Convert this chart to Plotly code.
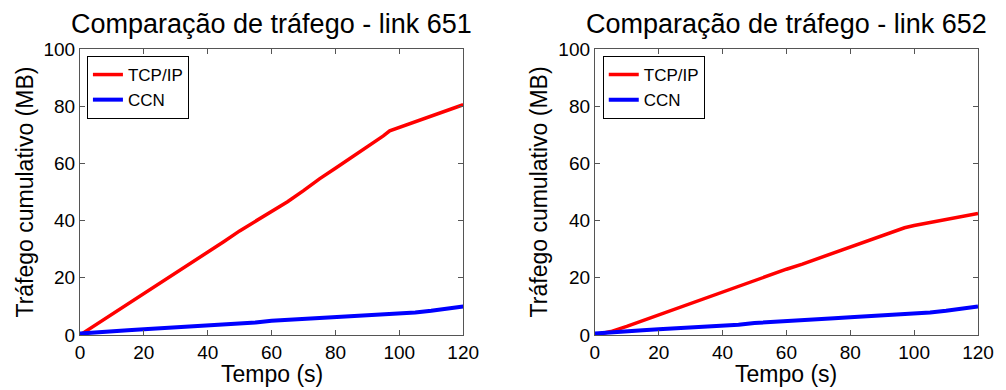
import plotly.graph_objects as go

# ---- data ----
t = [0, 5, 10, 15, 20, 25, 30, 35, 40, 45, 50, 55, 60, 65, 70, 75, 80, 85, 90, 95, 97, 100, 105, 110, 115, 120]
tcp_651 = [0, 3.6, 7.4, 11.0, 14.6, 18.0, 21.6, 25.4, 28.8, 32.6, 36.4, 39.8, 43.3, 46.6, 50.5, 54.6, 58.3, 62.0, 65.8, 69.6, 71.4, 72.6, 74.6, 76.5, 78.6, 80.5]
ccn_651 = [0.5, 1.0, 1.3, 1.7, 2.0, 2.3, 2.7, 3.0, 3.3, 3.7, 4.0, 4.4, 5.0, 5.3, 5.6, 6.0, 6.2, 6.5, 6.8, 7.1, 7.2, 7.4, 7.9, 8.5, 9.2, 10.0]
tcp_652 = [0, 1.2, 3.0, 5.0, 7.3, 9.2, 11.0, 13.0, 15.2, 17.3, 19.2, 21.0, 23.0, 24.8, 26.8, 28.8, 30.6, 32.5, 34.5, 36.7, 37.5, 38.3, 39.3, 40.3, 41.3, 42.5]
ccn_652 = [0.5, 1.0, 1.4, 1.7, 2.0, 2.3, 2.6, 3.0, 3.3, 3.6, 4.2, 4.6, 5.0, 5.3, 5.6, 5.9, 6.2, 6.5, 6.8, 7.1, 7.2, 7.4, 7.9, 8.5, 9.2, 10.0]

series_names = ["TCP/IP", "CCN"]
titles = ["Comparação de tráfego - link 651", "Comparação de tráfego - link 652"]
x_title = "Tempo (s)"
y_title = "Tráfego cumulativo (MB)"
x_ticks = [0, 20, 40, 60, 80, 100, 120]
y_ticks = [0, 20, 40, 60, 80, 100]

FONT = "Liberation Sans, Arial, sans-serif"
RED = "#ff0000"
BLUE = "#0000ff"

W, H = 1006, 390
ML, MR, MT, MB = 80, 19, 49, 55
PW = W - ML - MR
PH = H - MT - MB
dom1 = [0, 387 / PW]
dom2 = [(600 - ML) / PW, 1]

fig = go.Figure()
fig.add_trace(go.Scatter(x=t, y=tcp_651, mode="lines", name=series_names[0],
                         line=dict(color=RED, width=3.5), xaxis="x", yaxis="y", legend="legend"))
fig.add_trace(go.Scatter(x=t, y=ccn_651, mode="lines", name=series_names[1],
                         line=dict(color=BLUE, width=4), xaxis="x", yaxis="y", legend="legend"))
fig.add_trace(go.Scatter(x=t, y=tcp_652, mode="lines", name=series_names[0],
                         line=dict(color=RED, width=3.5), xaxis="x2", yaxis="y2", legend="legend2"))
fig.add_trace(go.Scatter(x=t, y=ccn_652, mode="lines", name=series_names[1],
                         line=dict(color=BLUE, width=4), xaxis="x2", yaxis="y2", legend="legend2"))

axis_common = dict(showgrid=False, zeroline=False, showline=True, linecolor="#555555", linewidth=1,
                   mirror="ticks", ticks="inside", ticklen=5, tickcolor="#555555",
                   tickfont=dict(family=FONT, size=19, color="black"))

legend_common = dict(xanchor="left", yanchor="top", bordercolor="black", borderwidth=1,
                     bgcolor="white", font=dict(family=FONT, size=17), tracegroupgap=0,
                     itemwidth=30)

fig.update_layout(
    width=W, height=H,
    margin=dict(l=ML, r=MR, t=MT, b=MB),
    paper_bgcolor="white", plot_bgcolor="white",
    font=dict(family=FONT, color="black"),
    xaxis=dict(domain=dom1, range=[0, 120], tickvals=x_ticks, anchor="y", **axis_common),
    yaxis=dict(domain=[0, 1], range=[0, 100], tickvals=y_ticks, anchor="x", **axis_common),
    xaxis2=dict(domain=dom2, range=[0, 120], tickvals=x_ticks, anchor="y2", **axis_common),
    yaxis2=dict(domain=[0, 1], range=[0, 100], tickvals=y_ticks, anchor="x2", **axis_common),
    legend=dict(x=(87 - ML) / PW, y=1 - 7 / PH, **legend_common),
    legend2=dict(x=(608 - ML) / PW, y=1 - 7 / PH, **legend_common),
    showlegend=True,
)

ann = []
for i, dom in enumerate([dom1, dom2]):
    cx = (dom[0] + dom[1]) / 2
    ann.append(dict(text=titles[i], x=cx, y=1 + (MT - 24) / PH, xref="paper", yref="paper",
                    xanchor="center", yanchor="middle", showarrow=False,
                    font=dict(family=FONT, size=27, color="black")))
    ann.append(dict(text=x_title, x=cx, y=-(374 - (H - MB)) / PH, xref="paper", yref="paper",
                    xanchor="center", yanchor="middle", showarrow=False,
                    font=dict(family=FONT, size=23, color="black")))
ann.append(dict(text=y_title, x=(24 - ML) / PW, y=0.5, xref="paper", yref="paper",
                xanchor="center", yanchor="middle", textangle=-90, showarrow=False,
                font=dict(family=FONT, size=23, color="black")))
ann.append(dict(text=y_title, x=(544 - ML) / PW, y=0.5, xref="paper", yref="paper",
                xanchor="center", yanchor="middle", textangle=-90, showarrow=False,
                font=dict(family=FONT, size=23, color="black")))
fig.update_layout(annotations=ann)

fig.write_html("out.html", config={"displayModeBar": False},
               post_script="document.body.style.margin='0';")
